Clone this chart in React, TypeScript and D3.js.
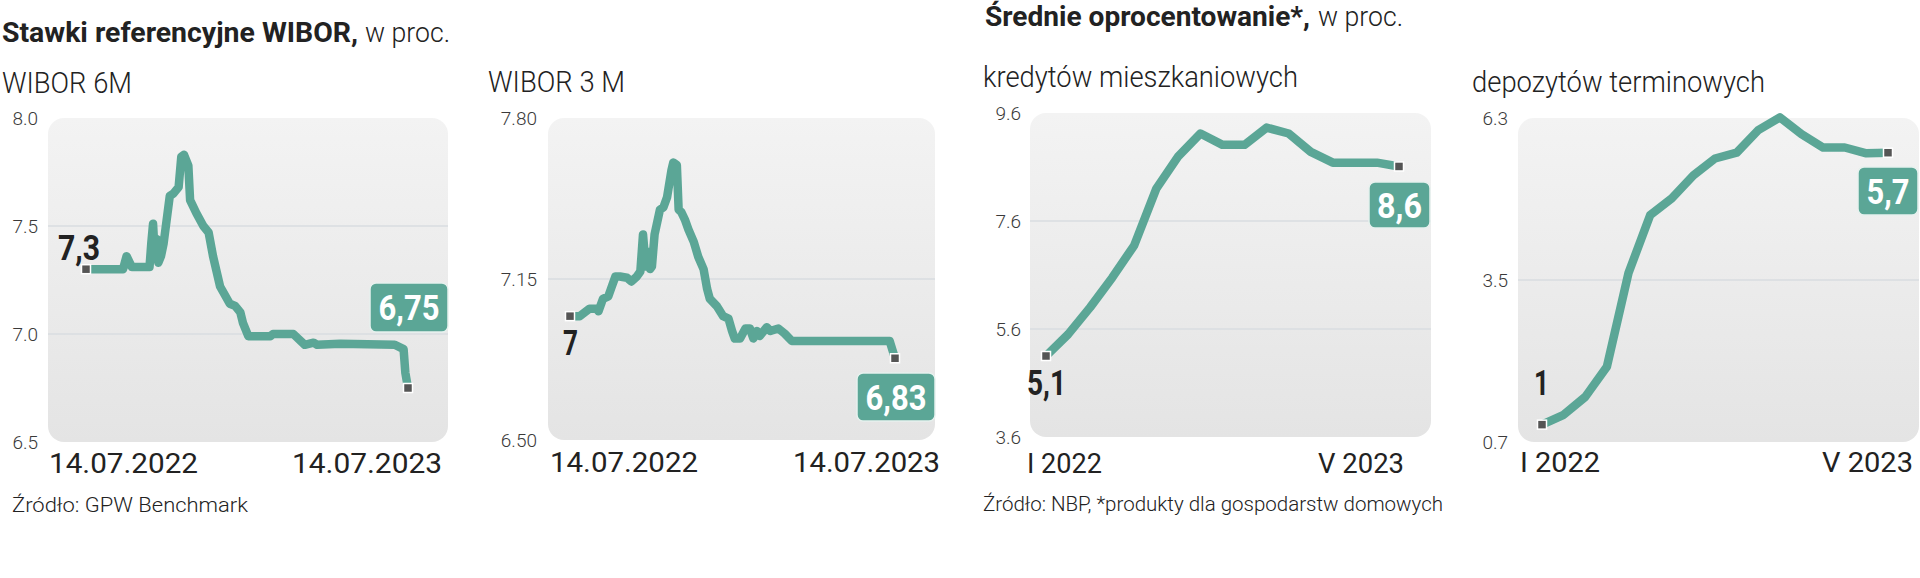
import * as d3 from 'd3';

const W = 1920;
const H = 578;

// WIBOR 6M, days since 14.07.2022
const wibor6Days = [0, 42, 46, 52, 72, 74, 76, 78, 80, 82, 85, 88, 95, 99, 105, 108, 111, 116, 118, 125, 133, 139, 144, 152, 163, 169, 175, 178, 184, 209, 212, 235, 248, 258, 262, 288, 350, 360, 362, 365];
const wibor6Vals = [7.3, 7.3, 7.36, 7.31, 7.31, 7.42, 7.51, 7.36, 7.44, 7.33, 7.36, 7.42, 7.64, 7.65, 7.68, 7.82, 7.83, 7.78, 7.62, 7.56, 7.5, 7.47, 7.36, 7.22, 7.14, 7.13, 7.1, 7.05, 6.99, 6.99, 7.0, 7.0, 6.95, 6.96, 6.95, 6.955, 6.95, 6.93, 6.82, 6.75];

// WIBOR 3M
const wibor3Days = [0, 11, 22, 30, 32, 37, 43, 47, 51, 56, 64, 69, 75, 79, 82, 85, 87, 90, 92, 95, 101, 105, 109, 114, 116, 120, 122, 125, 129, 133, 139, 144, 150, 154, 157, 165, 172, 178, 182, 185, 191, 197, 202, 206, 210, 213, 221, 225, 234, 241, 249, 262, 298, 359, 365];
const wibor3Vals = [7.0, 7.0, 7.03, 7.03, 7.02, 7.07, 7.08, 7.12, 7.16, 7.16, 7.155, 7.14, 7.16, 7.18, 7.33, 7.2, 7.26, 7.19, 7.2, 7.33, 7.43, 7.44, 7.48, 7.59, 7.62, 7.61, 7.43, 7.42, 7.39, 7.35, 7.3, 7.24, 7.19, 7.11, 7.07, 7.04, 7.0, 6.99, 6.94, 6.91, 6.91, 6.95, 6.95, 6.91, 6.94, 6.92, 6.955, 6.94, 6.95, 6.93, 6.9, 6.9, 6.9, 6.9, 6.83];

// monthly, I 2022 .. V 2023
const months = ['I 2022', 'II 2022', 'III 2022', 'IV 2022', 'V 2022', 'VI 2022', 'VII 2022', 'VIII 2022', 'IX 2022', 'X 2022', 'XI 2022', 'XII 2022', 'I 2023', 'II 2023', 'III 2023', 'IV 2023', 'V 2023'];
const creditVals = [5.1, 5.5, 6.0, 6.55, 7.15, 8.2, 8.8, 9.22, 9.01, 9.01, 9.33, 9.22, 8.88, 8.68, 8.68, 8.68, 8.61];
const depositVals = [1.0, 1.17, 1.48, 2.0, 3.62, 4.62, 4.91, 5.31, 5.6, 5.7, 6.09, 6.31, 6.02, 5.79, 5.79, 5.69, 5.7];

const wibor6Ticks = [8.0, 7.5, 7.0, 6.5];
const wibor3Ticks = [7.8, 7.15, 6.5];
const creditTicks = [9.6, 7.6, 5.6, 3.6];
const depositTicks = [6.3, 3.5, 0.7];

const GREEN = '#5ba696';
const INK = '#222';
const LIGHT = 'Roboto, "Noto Sans", sans-serif';

type Label = { text: string; x: number; y: number; w: number };
type Panel = {
  title: string; titleX: number; titleY: number; titleW: number;
  box: [number, number, number, number];
  plotX: [number, number];
  xs: number[]; ys: number[]; xDomain: [number, number];
  ticks: number[]; tickFmt: (v: number) => string; tickRight: number;
  startLabel: Label; endBox: { x: number; y: number; w: number; h: number; text: string; tw: number };
  dates: [Label, Label];
};

const panels: Panel[] = [
  {
    title: 'WIBOR 6M', titleX: 2, titleY: 93, titleW: 130,
    box: [48, 118, 448, 442], plotX: [86, 408],
    xs: wibor6Days, ys: wibor6Vals, xDomain: [0, 365],
    ticks: wibor6Ticks, tickFmt: d3.format('.1f'), tickRight: 38,
    startLabel: { text: '7,3', x: 58, y: 260, w: 42 },
    endBox: { x: 370, y: 283, w: 78, h: 49, text: '6,75', tw: 61 },
    dates: [{ text: '14.07.2022', x: 49, y: 473, w: 149 }, { text: '14.07.2023', x: 292, y: 473, w: 150 }],
  },
  {
    title: 'WIBOR 3 M', titleX: 488, titleY: 92, titleW: 137,
    box: [548, 118, 935, 440], plotX: [570, 895],
    xs: wibor3Days, ys: wibor3Vals, xDomain: [0, 365],
    ticks: wibor3Ticks, tickFmt: d3.format('.2f'), tickRight: 537,
    startLabel: { text: '7', x: 563, y: 355, w: 15 },
    endBox: { x: 857, y: 373, w: 78, h: 48, text: '6,83', tw: 61 },
    dates: [{ text: '14.07.2022', x: 550, y: 472, w: 148 }, { text: '14.07.2023', x: 793, y: 472, w: 147 }],
  },
  {
    title: 'kredytów mieszkaniowych', titleX: 983, titleY: 87, titleW: 315,
    box: [1030, 113, 1431, 437], plotX: [1046, 1399],
    xs: months.map((_, i) => i), ys: creditVals, xDomain: [0, months.length - 1],
    ticks: creditTicks, tickFmt: d3.format('.1f'), tickRight: 1021,
    startLabel: { text: '5,1', x: 1027, y: 395, w: 39 },
    endBox: { x: 1369, y: 182, w: 61, h: 46, text: '8,6', tw: 45 },
    dates: [{ text: months[0], x: 1027, y: 473, w: 75 }, { text: months[months.length - 1], x: 1318, y: 473, w: 86 }],
  },
  {
    title: 'depozytów terminowych', titleX: 1472, titleY: 92, titleW: 293,
    box: [1518, 118, 1919, 442], plotX: [1542, 1888],
    xs: months.map((_, i) => i), ys: depositVals, xDomain: [0, months.length - 1],
    ticks: depositTicks, tickFmt: d3.format('.1f'), tickRight: 1508,
    startLabel: { text: '1', x: 1534, y: 395, w: 15 },
    endBox: { x: 1858, y: 167, w: 60, h: 48, text: '5,7', tw: 43 },
    dates: [{ text: months[0], x: 1520, y: 472, w: 80 }, { text: months[months.length - 1], x: 1822, y: 472, w: 91 }],
  },
];

function ChartPanel({ p, i }: { p: Panel; i: number }) {
  const [x0, y0, x1, y1] = p.box;
  const x = d3.scaleLinear(p.xDomain, p.plotX);
  const y = d3.scaleLinear([p.ticks[p.ticks.length - 1], p.ticks[0]], [y1, y0]);
  const pts = p.xs.map((d, k) => [d, p.ys[k]] as [number, number]);
  const line = d3.line<[number, number]>().x(d => x(d[0])).y(d => y(d[1]));
  const first = pts[0];
  const last = pts[pts.length - 1];
  const mid = p.ticks.slice(1, -1);
  return (
    <g>
      <text x={p.titleX} y={p.titleY} fontFamily={LIGHT} fontWeight={300} fontSize={30} fill={INK}
        textLength={p.titleW} lengthAdjust="spacingAndGlyphs">{p.title}</text>
      <rect x={x0} y={y0} width={x1 - x0} height={y1 - y0} rx={16} fill={`url(#bg${i})`} />
      {mid.map(t => (
        <line key={t} x1={x0} x2={x1} y1={y(t)} y2={y(t)} stroke="#d9dde0" strokeWidth={1.5} />
      ))}
      {p.ticks.map(t => (
        <text key={t} x={p.tickRight} y={y(t)} dy="0.36em" textAnchor="end" fontFamily={LIGHT}
          fontWeight={300} fontSize={19} fill="#3a3a3a">{p.tickFmt(t)}</text>
      ))}
      <path d={line(pts) ?? ''} fill="none" stroke={GREEN} strokeWidth={8.5} strokeLinejoin="round" strokeLinecap="round" />
      {[first, last].map((d, k) => (
        <rect key={k} x={x(d[0]) - 4.5} y={y(d[1]) - 4.5} width={9} height={9} fill="#555" stroke="#fff" strokeWidth={1.5} />
      ))}
      <text x={p.startLabel.x} y={p.startLabel.y} fontFamily={LIGHT} fontWeight={700} fontSize={35} fill={INK}
        textLength={p.startLabel.w} lengthAdjust="spacingAndGlyphs">{p.startLabel.text}</text>
      <rect x={p.endBox.x} y={p.endBox.y} width={p.endBox.w} height={p.endBox.h} rx={6} fill={GREEN}
        stroke="#e6f1ee" strokeWidth={1.5} />
      <text x={p.endBox.x + p.endBox.w / 2} y={p.endBox.y + p.endBox.h / 2} dy="0.36em" textAnchor="middle"
        fontFamily={LIGHT} fontWeight={700} fontSize={35} fill="#fff"
        textLength={p.endBox.tw} lengthAdjust="spacingAndGlyphs">{p.endBox.text}</text>
      {p.dates.map(d => (
        <text key={d.text} x={d.x} y={d.y} fontFamily={LIGHT} fontWeight={400} fontSize={28} fill={INK}
          textLength={d.w} lengthAdjust="spacingAndGlyphs">{d.text}</text>
      ))}
    </g>
  );
}

export default function App() {
  return (
    <svg width={W} height={H} style={{ position: 'absolute', left: 0, top: 0, background: '#fff' }}>
      <defs>
        {panels.map((_, i) => (
          <linearGradient key={i} id={`bg${i}`} x1="0" y1="0" x2="0" y2="1">
            <stop offset="0" stopColor="#f3f3f3" />
            <stop offset="1" stopColor="#e4e4e4" />
          </linearGradient>
        ))}
      </defs>
      <text x={2} y={42} fontFamily={LIGHT} fontSize={28} fill={INK}>
        <tspan fontWeight={700} textLength={356} lengthAdjust="spacingAndGlyphs">Stawki referencyjne WIBOR,</tspan>
        <tspan x={365} fontWeight={300} textLength={85} lengthAdjust="spacingAndGlyphs">w proc.</tspan>
      </text>
      <text x={985} y={26} fontFamily={LIGHT} fontSize={28} fill={INK}>
        <tspan fontWeight={700} textLength={325} lengthAdjust="spacingAndGlyphs">Średnie oprocentowanie*,</tspan>
        <tspan x={1318} fontWeight={300} textLength={85} lengthAdjust="spacingAndGlyphs">w proc.</tspan>
      </text>
      {panels.map((p, i) => <ChartPanel key={i} p={p} i={i} />)}
      <text x={12} y={512} fontFamily={LIGHT} fontWeight={300} fontSize={21} fill={INK}
        textLength={236} lengthAdjust="spacingAndGlyphs">Źródło: GPW Benchmark</text>
      <text x={983} y={511} fontFamily={LIGHT} fontWeight={300} fontSize={21} fill={INK}
        textLength={460} lengthAdjust="spacingAndGlyphs">Źródło: NBP, *produkty dla gospodarstw domowych</text>
    </svg>
  );
}
